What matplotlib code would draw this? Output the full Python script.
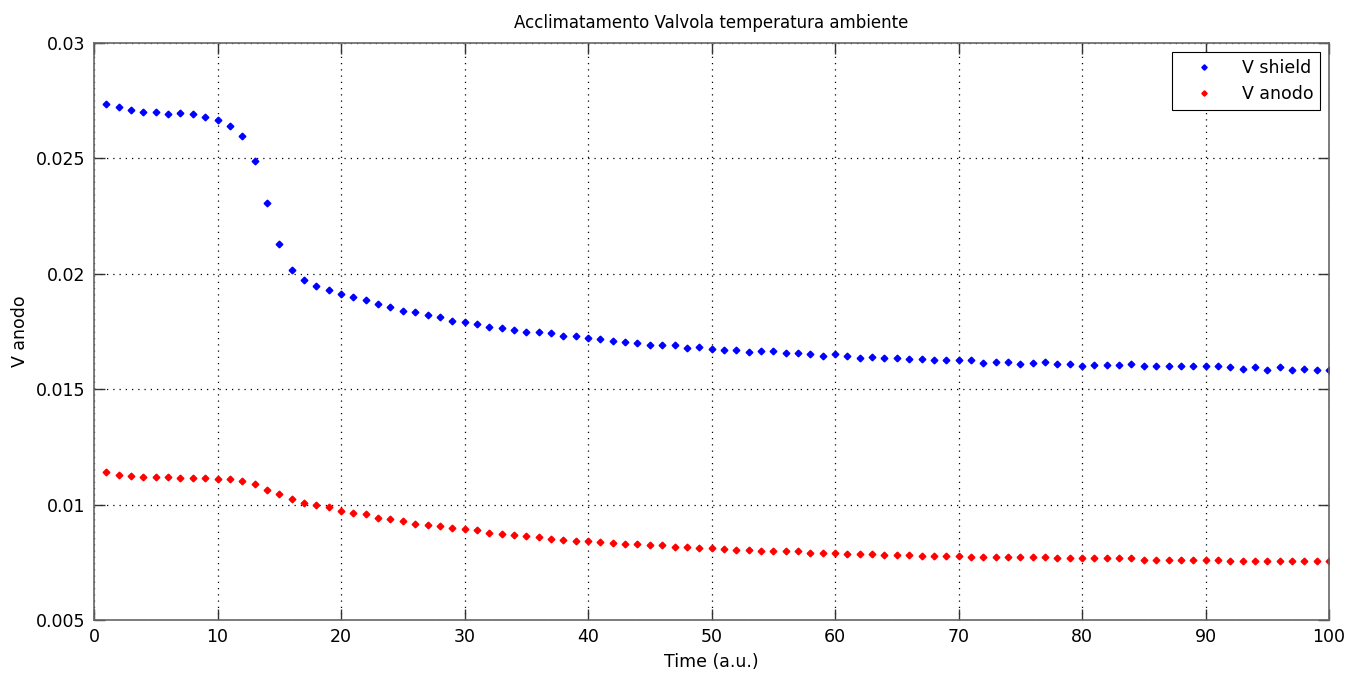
"""Acclimatamento Valvola temperatura ambiente -- V shield / V anodo vs time."""

import matplotlib
matplotlib.use("Agg")
import matplotlib.pyplot as plt
import numpy as np

# --------------------------------------------------------------------------- #
#  Data
# --------------------------------------------------------------------------- #
time_au = np.arange(1, 101)

v_shield = [
    0.02736, 0.02723, 0.02711, 0.02701, 0.02701, 0.02691, 0.02697, 0.02691, 0.02681, 0.02666,
    0.02642, 0.02596, 0.02490, 0.02308, 0.02130, 0.02015, 0.01974, 0.01948, 0.01928, 0.01914,
    0.01898, 0.01888, 0.01868, 0.01857, 0.01837, 0.01833, 0.01823, 0.01813, 0.01797, 0.01792,
    0.01782, 0.01771, 0.01766, 0.01756, 0.01748, 0.01748, 0.01742, 0.01730, 0.01730, 0.01720,
    0.01716, 0.01710, 0.01706, 0.01701, 0.01691, 0.01691, 0.01691, 0.01680, 0.01681, 0.01674,
    0.01671, 0.01670, 0.01660, 0.01665, 0.01665, 0.01655, 0.01655, 0.01651, 0.01645, 0.01651,
    0.01645, 0.01635, 0.01641, 0.01635, 0.01635, 0.01631, 0.01631, 0.01625, 0.01625, 0.01625,
    0.01625, 0.01615, 0.01619, 0.01619, 0.01610, 0.01615, 0.01619, 0.01609, 0.01609, 0.01600,
    0.01605, 0.01605, 0.01605, 0.01609, 0.01600, 0.01600, 0.01600, 0.01600, 0.01600, 0.01600,
    0.01600, 0.01595, 0.01589, 0.01595, 0.01584, 0.01595, 0.01584, 0.01589, 0.01584, 0.01584,
]

v_anodo = [
    0.01141, 0.01130, 0.01125, 0.01119, 0.01119, 0.01119, 0.01115, 0.01115, 0.01115, 0.01109,
    0.01109, 0.01101, 0.01090, 0.01064, 0.01044, 0.01024, 0.01008, 0.00998, 0.00988, 0.00973,
    0.00963, 0.00958, 0.00943, 0.00939, 0.00927, 0.00917, 0.00913, 0.00907, 0.00898, 0.00893,
    0.00888, 0.00878, 0.00874, 0.00868, 0.00864, 0.00858, 0.00852, 0.00848, 0.00843, 0.00843,
    0.00838, 0.00832, 0.00829, 0.00829, 0.00823, 0.00823, 0.00817, 0.00817, 0.00812, 0.00812,
    0.00807, 0.00802, 0.00802, 0.00798, 0.00798, 0.00798, 0.00798, 0.00791, 0.00791, 0.00791,
    0.00787, 0.00787, 0.00787, 0.00781, 0.00781, 0.00781, 0.00777, 0.00777, 0.00777, 0.00777,
    0.00771, 0.00771, 0.00771, 0.00771, 0.00771, 0.00771, 0.00771, 0.00767, 0.00767, 0.00767,
    0.00767, 0.00767, 0.00767, 0.00767, 0.00761, 0.00761, 0.00761, 0.00761, 0.00761, 0.00761,
    0.00761, 0.00755, 0.00755, 0.00755, 0.00755, 0.00755, 0.00755, 0.00755, 0.00755, 0.00755,
]

x_ticks = [0, 10, 20, 30, 40, 50, 60, 70, 80, 90, 100]
y_ticks = [0.005, 0.01, 0.015, 0.02, 0.025, 0.03]
y_tick_labels = ["0.005", "0.01", "0.015", "0.02", "0.025", "0.03"]

# --------------------------------------------------------------------------- #
#  Figure
# --------------------------------------------------------------------------- #
matplotlib.rcParams.update({"font.family": "DejaVu Sans", "font.size": 12})

fig = plt.figure(figsize=(13.59, 6.77), dpi=100)
ax = fig.add_axes([0.0692, 0.0842, 0.9088, 0.8523])

ax.plot(time_au, v_shield, linestyle="none", marker="D", markersize=3.4,
        color="#0000ff", label="V shield")
ax.plot(time_au, v_anodo, linestyle="none", marker="D", markersize=3.4,
        color="#ff0000", label="V anodo")

ax.set_xlim(0, 100)
ax.set_ylim(0.005, 0.03)
ax.set_xticks(x_ticks)
ax.set_yticks(y_ticks)
ax.set_yticklabels(y_tick_labels)

ax.grid(True, linestyle=(0, (1, 4)), color="black", linewidth=0.9)
ax.tick_params(direction="in", length=8, width=1, color="#333333",
               top=True, right=True, labelsize=12.5, pad=6)
for sp in ax.spines.values():
    sp.set_color("#666666")
    sp.set_linewidth(1.2)

ax.set_title("Acclimatamento Valvola temperatura ambiente", fontsize=12, pad=11)
ax.set_xlabel("Time (a.u.)", fontsize=12.5, labelpad=5)
ax.set_ylabel("V anodo", fontsize=12.5, labelpad=5)

leg = ax.legend(loc="upper right", fontsize=12.5, frameon=True, fancybox=False,
                edgecolor="black", framealpha=1, borderpad=0.4, handlelength=2.8,
                borderaxespad=0.5, markerscale=0.8)
leg.get_frame().set_linewidth(0.8)

fig.savefig("out.png", dpi=100)
